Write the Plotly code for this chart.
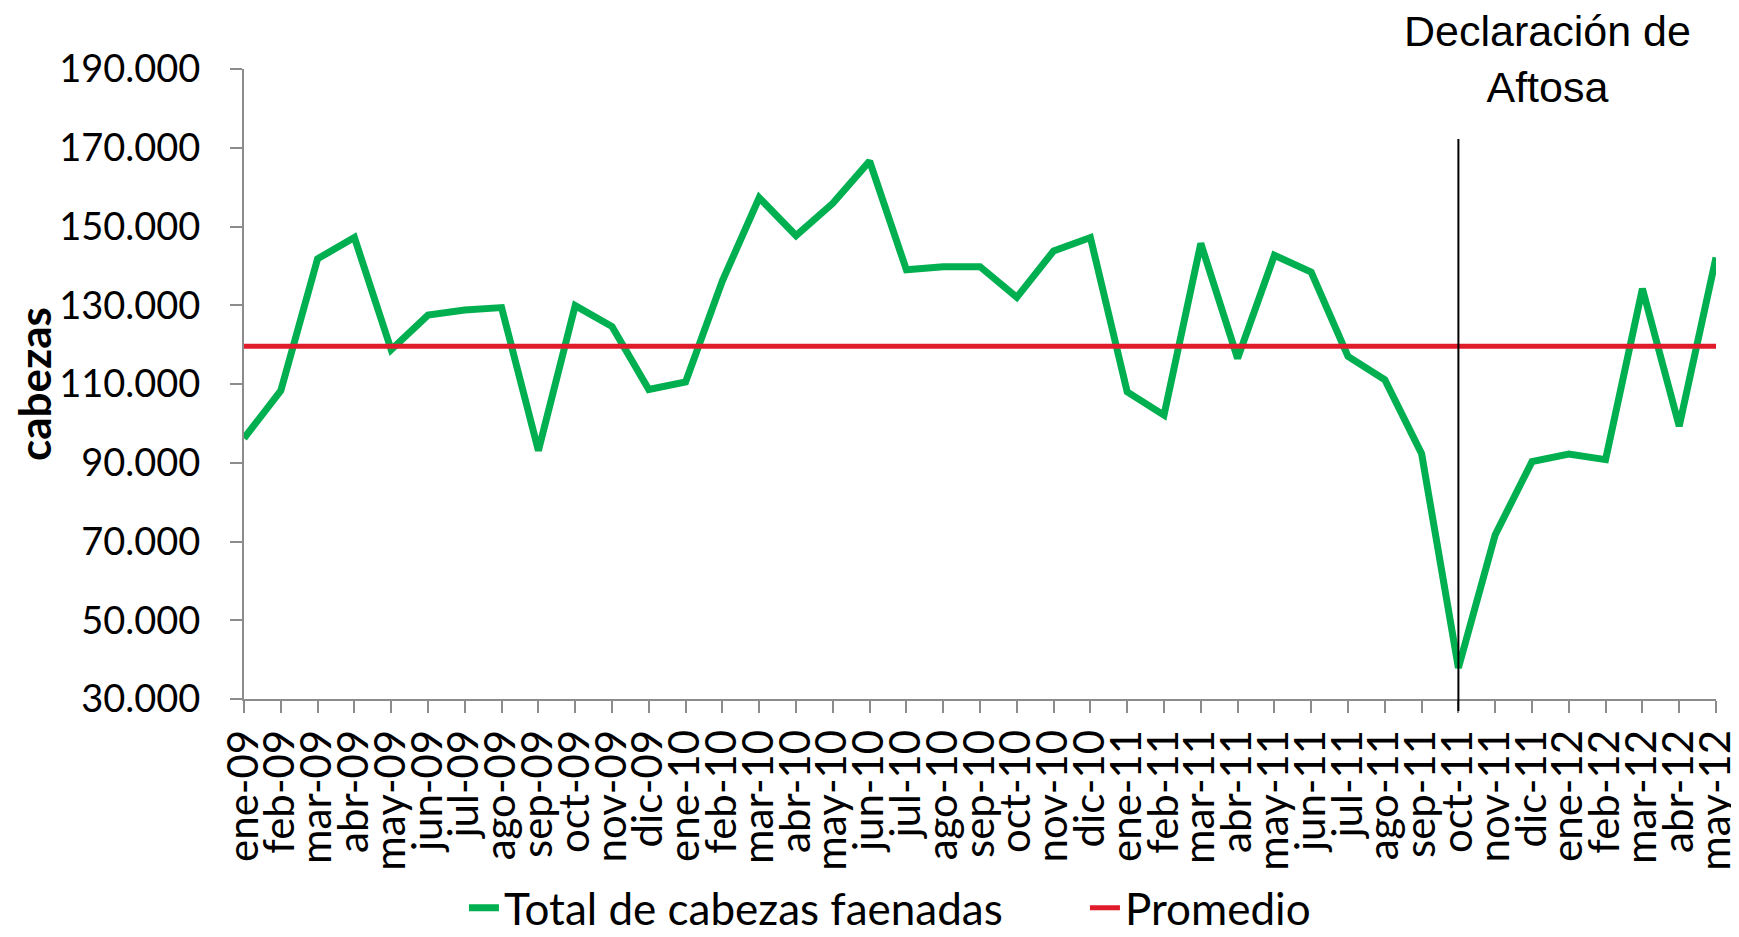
import plotly.graph_objects as go

meses = ["ene-09", "feb-09", "mar-09", "abr-09", "may-09", "jun-09", "jul-09", "ago-09",
         "sep-09", "oct-09", "nov-09", "dic-09", "ene-10", "feb-10", "mar-10", "abr-10",
         "may-10", "jun-10", "jul-10", "ago-10", "sep-10", "oct-10", "nov-10", "dic-10",
         "ene-11", "feb-11", "mar-11", "abr-11", "may-11", "jun-11", "jul-11", "ago-11",
         "sep-11", "oct-11", "nov-11", "dic-11", "ene-12", "feb-12", "mar-12", "abr-12",
         "may-12"]

total_cabezas = [96200, 108300, 141800, 147200, 118700, 127500, 128800, 129400,
                 93100, 129900, 124600, 108600, 110500, 136200, 157300, 147700,
                 155900, 166600, 139000, 139800, 139800, 132000, 143800, 147200,
                 108000, 102100, 145700, 116500, 142700, 138400, 117000, 111100,
                 92300, 37900, 71700, 90300, 92200, 90800, 134200, 99300,
                 142100]

promedio_valor = 119600
promedio = [promedio_valor] * len(meses)

y_ticks = [30000, 50000, 70000, 90000, 110000, 130000, 150000, 170000, 190000]

evento_mes = "oct-11"
evento_texto = "Declaración de<br>Aftosa"

FONT = "Lato"

fig = go.Figure()
fig.add_trace(go.Scatter(
    x=meses, y=total_cabezas, mode="lines", name="Total de cabezas faenadas",
    line=dict(color="#00B050", width=7),
))
fig.add_trace(go.Scatter(
    x=meses, y=promedio, mode="lines", name="Promedio",
    line=dict(color="#E01B2A", width=5),
))

fig.add_shape(type="line", xref="x", yref="paper",
              x0=evento_mes, x1=evento_mes, y0=-0.019, y1=0.889,
              line=dict(color="black", width=2))

fig.add_annotation(text=evento_texto, xref="paper", yref="paper",
                   x=0.8855, y=1.102, xanchor="center", yanchor="top",
                   showarrow=False,
                   font=dict(family="Liberation Sans", size=43, color="black"))

fig.update_layout(
    width=1731, height=929,
    margin=dict(l=236, r=23, t=61, b=238, autoexpand=False),
    paper_bgcolor="white", plot_bgcolor="white",
    separators=",.",
    font=dict(family=FONT, color="black", size=38),
    showlegend=True,
    legend=dict(orientation="h", xref="container", yref="container",
                x=0.2634, y=0.031, xanchor="left", yanchor="middle",
                font=dict(family=FONT, size=44, color="black"),
                itemwidth=30, entrywidth=576, entrywidthmode="pixels",
                bgcolor="rgba(0,0,0,0)", traceorder="normal"),
)

fig.update_xaxes(
    type="category", range=[0, len(meses) - 1],
    tickmode="array", tickvals=meses, ticktext=meses,
    showline=True, linecolor="#8C8C8C", linewidth=2,
    ticks="outside", ticklen=12, tickcolor="#8C8C8C", tickwidth=2,
    tickangle=-90, tickfont=dict(family=FONT, size=42, color="black"),
    showgrid=False, zeroline=False,
)
fig.update_yaxes(
    range=[30000, 190000], tickvals=y_ticks, tickformat=",d",
    showline=True, linecolor="#8C8C8C", linewidth=2,
    ticks="outside", ticklen=12, tickcolor="#8C8C8C", tickwidth=2,
    tickfont=dict(family=FONT, size=38, color="black"),
    ticklabelstandoff=22,
    showgrid=False, zeroline=False,
    title=dict(text="<b>cabezas</b>", standoff=22,
               font=dict(family=FONT, size=44, color="black")),
)

fig.write_html("out.html")
